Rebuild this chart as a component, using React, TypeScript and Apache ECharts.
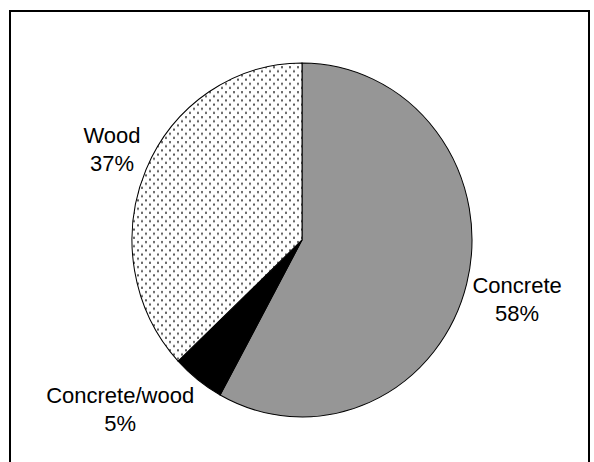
import React, { useEffect, useRef } from "react";
import * as echarts from "echarts";

// ---- data ----
const categories = ["Concrete", "Concrete/wood", "Wood"];
const values = [58, 5, 37];

// ---- layout / style ----
const W = 594;
const H = 462;
const CX = 302;
const CY = 240;
const RX = 170;
const RY = 177;
const GAP = 6;
const FONT_SIZE = 22;
const LINE_H = 28;
const FONT_FAMILY = "'Liberation Sans', Arial, sans-serif";

function makeDotPattern(): HTMLCanvasElement {
  const c = document.createElement("canvas");
  c.width = 8;
  c.height = 8;
  const ctx = c.getContext("2d")!;
  ctx.fillStyle = "#ffffff";
  ctx.fillRect(0, 0, 8, 8);
  ctx.fillStyle = "#5a5a5a";
  ctx.fillRect(1, 1, 2, 2);
  ctx.fillRect(5, 5, 2, 2);
  return c;
}

function measure(lines: string[]): number {
  const c = document.createElement("canvas");
  const ctx = c.getContext("2d")!;
  ctx.font = `${FONT_SIZE}px ${FONT_FAMILY}`;
  return Math.max(...lines.map((l) => ctx.measureText(l).width));
}

export default function App() {
  const ref = useRef<HTMLDivElement>(null);

  useEffect(() => {
    if (!ref.current) return;
    const chart = echarts.init(ref.current, undefined, { renderer: "svg" });

    const total = values.reduce((a, b) => a + b, 0);
    const starts: number[] = [];
    let acc = 0;
    values.forEach((v) => {
      starts.push(acc);
      acc += v;
    });
    const patternCanvas = makeDotPattern();
    const fills: any[] = [
      "#969696",
      "#000000",
      { image: patternCanvas, repeat: "repeat", imageWidth: 8, imageHeight: 8 },
    ];

    chart.setOption({
      animation: false,
      backgroundColor: "#ffffff",
      graphic: [
        {
          type: "rect",
          shape: { x: 10, y: 11, width: 579, height: 520 },
          style: { fill: "none", stroke: "#000000", lineWidth: 2 },
          silent: true,
          z: 10,
        },
      ],
      series: [
        {
          type: "custom",
          coordinateSystem: "none",
          silent: true,
          data: values.map((v, i) => ({ name: categories[i], value: v })),
          renderItem: (params: any, api: any) => {
            const i = params.dataIndex;
            const v = api.value(0);
            const f0 = starts[i] / total;
            const f1 = (starts[i] + v) / total;
            const a0 = -Math.PI / 2 + 2 * Math.PI * f0;
            const a1 = -Math.PI / 2 + 2 * Math.PI * f1;
            const mid = 2 * Math.PI * (f0 + f1) / 2;
            const sx = Math.sin(mid);
            const sy = -Math.cos(mid);
            const ax = CX + (RX + GAP) * sx;
            const ay = CY + (RY + GAP) * sy;
            const lines = [categories[i], Math.round((v / total) * 100) + "%"];
            const tw = measure(lines);
            const th = lines.length * LINE_H;
            const tx = ax + Math.sign(sx) * tw / 2;
            const ty = ay + Math.sign(sy) * Math.sqrt(Math.abs(sy)) * th / 2;
            return {
              type: "group",
              children: [
                {
                  type: "sector",
                  shape: {
                    cx: CX,
                    cy: CY,
                    r0: 0,
                    r: RX,
                    startAngle: a0,
                    endAngle: a1,
                    clockwise: true,
                  },
                  originX: CX,
                  originY: CY,
                  scaleY: RY / RX,
                  style: { fill: fills[i], stroke: "#000000", lineWidth: 1 },
                },
                {
                  type: "text",
                  x: tx,
                  y: ty,
                  style: {
                    text: lines.join("\n"),
                    fontSize: FONT_SIZE,
                    fontFamily: FONT_FAMILY,
                    fill: "#000000",
                    align: "center",
                    verticalAlign: "middle",
                    lineHeight: LINE_H,
                  },
                },
              ],
            };
          },
        },
      ],
    });

    return () => chart.dispose();
  }, []);

  return (
    <div
      ref={ref}
      style={{ position: "absolute", left: 0, top: 0, width: W, height: H }}
    />
  );
}
